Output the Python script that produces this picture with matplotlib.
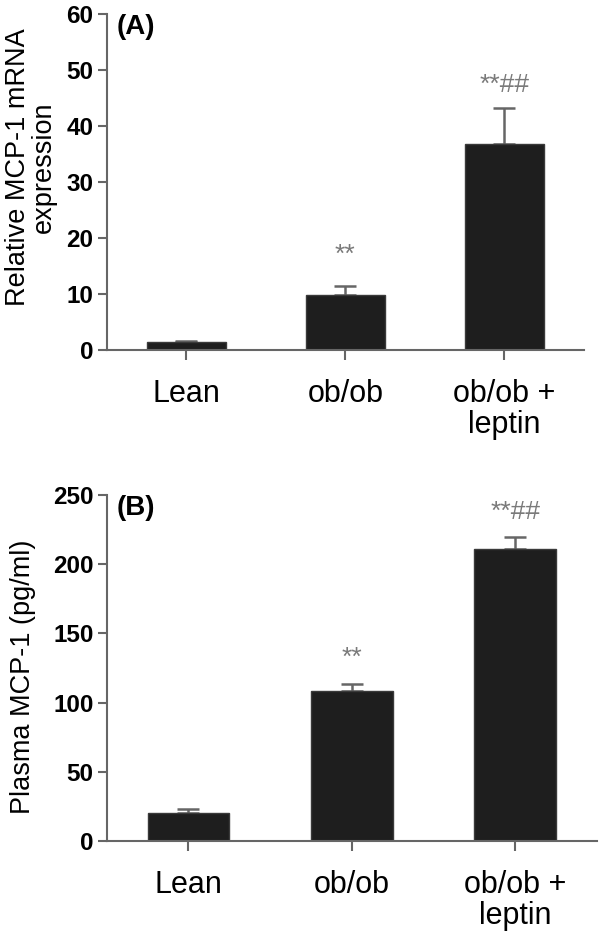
import matplotlib
matplotlib.use("Agg")
import matplotlib.pyplot as plt

plt.rcParams['font.family'] = ['Liberation Sans', 'DejaVu Sans']

groups = ["Lean", "ob/ob", "ob/ob +\nleptin"]

# panel A: relative MCP-1 mRNA expression
mrna_mean = [1.4, 9.8, 36.7]
mrna_err = [0.25, 1.7, 6.5]
mrna_marks = ["", "**", "**##"]
mrna_mark_y = [None, 17.0, 47.3]

# panel B: plasma MCP-1 (pg/ml)
plasma_mean = [20.5, 108.6, 210.7]
plasma_err = [2.9, 4.8, 8.7]
plasma_marks = ["", "**", "**##"]
plasma_mark_y = [None, 132, 237.7]

bar_col = "#1e1e1e"
axis_col = "#666666"
mark_col = "#7a7a7a"


def draw_panel(ax, means, errs, marks, mark_y, ylim, yticks, ylabel, tag, ylab_xy):
    x = range(len(groups))
    ax.bar(x, means, width=0.5, color=bar_col, edgecolor="#3a3a3a", linewidth=1, zorder=2)
    ax.errorbar(x, means, yerr=[[0] * len(errs), errs], fmt="none",
                ecolor=axis_col, elinewidth=1.8, capsize=8, capthick=1.8, zorder=1)
    for xi, m, my in zip(x, marks, mark_y):
        if m:
            ax.text(xi, my, m, ha="center", va="center", fontsize=19, color=mark_col)
    ax.set_xlim(-0.5, 2.5)
    ax.set_ylim(*ylim)
    ax.set_yticks(yticks)
    ax.set_yticklabels([str(t) for t in yticks], fontsize=17.5, fontweight="bold")
    ax.set_xticks(list(x))
    ax.set_xticklabels(groups, fontsize=22, linespacing=1.05)
    ax.tick_params(axis="x", direction="out", length=7, width=1.5, color=axis_col, pad=14)
    ax.tick_params(axis="y", direction="out", length=6.5, width=1.5, color=axis_col, pad=3)
    for s in ["top", "right"]:
        ax.spines[s].set_visible(False)
    for s in ["left", "bottom"]:
        ax.spines[s].set_color(axis_col)
        ax.spines[s].set_linewidth(1.5)
    ax.set_ylabel(ylabel, fontsize=19.5, linespacing=1.0)
    ax.yaxis.set_label_coords(*ylab_xy)
    ax.text(0.02, 1.0, tag, transform=ax.transAxes, fontsize=20, fontweight="bold",
            ha="left", va="top")


fig = plt.figure(figsize=(6, 9.38), dpi=100)
ax1 = fig.add_axes([0.178, 0.627, 0.795, 0.358])
ax2 = fig.add_axes([0.178, 0.1034, 0.817, 0.369])

draw_panel(ax1, mrna_mean, mrna_err, mrna_marks, mrna_mark_y, (0, 60),
           [0, 10, 20, 30, 40, 50, 60], "Relative MCP-1 mRNA\nexpression", "(A)",
           (-0.105, 0.545))
draw_panel(ax2, plasma_mean, plasma_err, plasma_marks, plasma_mark_y, (0, 250),
           [0, 50, 100, 150, 200, 250], "Plasma MCP-1 (pg/ml)", "(B)",
           (-0.145, 0.474))

fig.savefig("out.png", dpi=100)
